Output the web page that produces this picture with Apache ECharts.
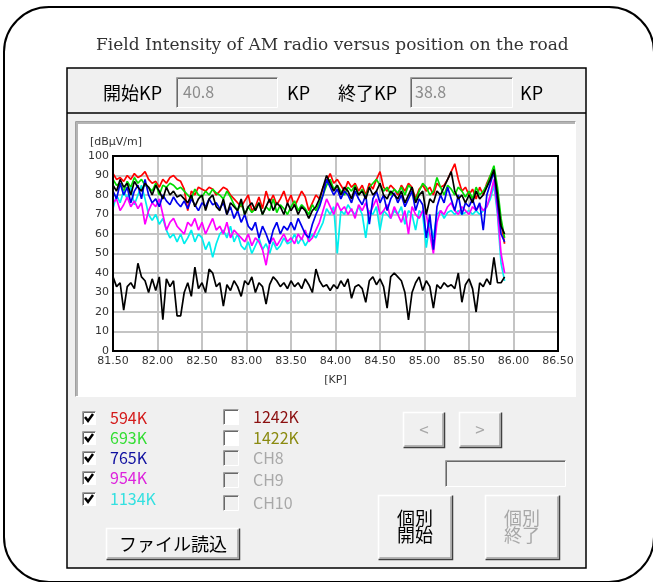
<!DOCTYPE html>
<html><head><meta charset="utf-8">
<script src="https://cdn.jsdelivr.net/npm/echarts@6/dist/echarts.min.js"></script>
<style>html,body{margin:0;padding:0;background:#fff}#c{width:653px;height:582px}</style>
</head><body><div id="c"></div>
<script>
// ---- data ----
const kp = [81.50,81.54,81.58,81.62,81.66,81.70,81.74,81.78,81.82,81.86,
81.90,81.94,81.98,82.02,82.06,82.10,82.14,82.18,82.22,82.26,
82.30,82.34,82.38,82.42,82.46,82.50,82.54,82.58,82.62,82.66,
82.70,82.74,82.78,82.82,82.86,82.90,82.94,82.98,83.02,83.06,
83.10,83.14,83.18,83.22,83.26,83.30,83.34,83.38,83.42,83.46,
83.50,83.54,83.58,83.62,83.66,83.70,83.74,83.78,83.82,83.86,
83.90,83.94,83.98,84.02,84.06,84.10,84.14,84.18,84.22,84.26,
84.30,84.34,84.38,84.42,84.46,84.50,84.54,84.58,84.62,84.66,
84.70,84.74,84.78,84.82,84.86,84.90,84.94,84.98,85.02,85.06,
85.10,85.14,85.18,85.22,85.26,85.30,85.34,85.38,85.42,85.46,
85.50,85.54,85.58,85.62,85.66,85.70,85.74,85.78,85.82,85.86,85.90];

const ch594 = [91,88,89,87,90,88,91,89,90,92, 88,86,87,84,88,86,89,90,88,87,
83,72,82,80,84,83,82,84,83,80, 82,84,83,80,78,76,74,77,80,72,
74,79,73,82,76,80,75,78,82,76, 80,74,78,82,79,72,76,80,78,84,
87,91,86,88,85,82,87,84,86,82, 85,80,86,83,88,92,84,82,85,83,
80,85,82,86,84,78,83,85,82,84, 80,86,84,85,88,92,96,88,82,84,
80,83,78,84,80,86,90,92,80,66,55];

const ch693 = [88,85,86,82,87,84,89,86,88,85, 84,82,86,80,85,84,86,85,83,84,
82,80,78,83,80,79,82,80,83,81, 80,78,82,79,75,72,76,70,74,71,
73,76,70,74,72,78,71,75,73,70, 74,77,72,75,73,70,75,72,76,80,
85,88,83,85,82,80,84,82,85,80, 83,79,84,86,88,85,82,84,80,83,
81,84,80,85,83,77,82,86,84,80, 82,89,84,80,85,83,80,84,82,79,
82,78,84,80,82,85,90,95,84,68,58];

const ch765 = [82,78,86,80,84,76,82,85,78,88, 80,76,78,74,80,77,75,79,76,74,
77,73,78,75,72,76,74,78,75,76, 73,76,70,74,68,72,66,70,64,62,
66,58,64,60,55,62,66,60,64,62, 66,62,68,64,60,58,65,70,74,80,
88,84,80,83,78,82,80,76,82,78, 75,80,65,78,82,76,80,72,78,81,
76,80,74,78,82,72,78,75,58,70, 52,74,80,76,84,78,72,80,70,76,
74,78,72,76,62,80,86,92,76,60,56];

const ch954 = [76,78,72,75,79,74,77,73,76,65, 72,76,74,78,70,62,66,68,64,62,
60,66,64,68,62,66,60,64,68,62, 64,60,66,58,62,60,58,56,60,54,
58,56,52,44,55,58,54,57,60,56, 58,55,60,57,62,56,58,62,66,72,
78,74,70,76,72,74,70,73,68,75, 72,76,70,74,78,70,72,75,68,74,
70,66,72,60,74,70,68,72,70,60, 50,66,72,70,74,76,72,70,74,72,
70,74,72,75,72,74,80,88,72,50,40];

const ch1134 = [73,80,76,82,78,84,75,80,85,78, 70,67,70,65,68,62,58,60,56,60,
55,58,62,56,60,58,52,56,48,55, 60,62,58,64,56,60,54,52,56,50,
54,58,52,55,50,56,52,54,58,55, 56,60,55,58,54,57,60,58,62,66,
73,70,74,50,72,70,75,72,70,74, 70,58,72,70,74,62,72,70,68,72,
70,74,65,72,70,62,72,70,53,66, 58,70,72,68,71,72,70,72,70,71,
72,70,72,70,72,74,78,85,70,45,36];

const blackHigh = [85,82,88,84,86,80,87,84,82,86, 84,80,85,82,78,84,80,82,79,80,
78,76,80,74,78,80,72,78,80,74, 72,78,70,76,74,72,78,70,74,76,
72,76,70,74,78,72,76,74,70,76, 72,75,70,74,72,68,72,74,78,84,
90,86,82,85,80,84,82,78,84,80, 82,78,84,80,82,86,80,78,82,80,
78,82,76,80,84,76,80,82,70,78, 76,82,80,84,88,92,82,78,80,76,
80,76,82,78,80,84,88,93,80,64,60];

const blackLow = [38,33,35,21,33,35,32,45,38,36, 30,37,31,38,16,37,33,36,18,18,
30,35,28,43,32,35,30,42,40,33, 35,23,34,31,36,33,28,36,34,38,
30,35,33,24,34,38,36,33,35,32, 36,33,35,32,37,34,30,42,36,33,
34,31,34,32,36,33,37,27,33,34, 32,25,36,38,34,37,33,22,38,40,
38,36,30,16,30,35,38,31,36,33, 22,34,32,35,33,34,32,40,25,34,
37,32,20,35,33,37,34,48,35,35,38];

const yTicks = [0,10,20,30,40,50,60,70,80,90,100];
const checkedNames = ['594K','693K','765K','954K','1134K'];
const checkedColors = ['#d41a1a','#33dd33','#1010a0','#dd22dd','#33e0e0'];
const otherNames = ['1242K','1422K','CH8','CH9','CH10'];
const otherColors = ['#8b1010','#8a8a10','#a8a8a8','#a8a8a8','#a8a8a8'];
const traceColors = {ch594:'#ff0000', ch693:'#00dd00', ch765:'#0000ee', ch954:'#ff00ff', ch1134:'#00eeee', black:'#000000'};

// ---- helpers for dialog chrome ----
const JP = '"Noto Sans CJK JP", sans-serif';
const els = [];
function rect(x,y,w,h,fill,stroke,lw,z,r){els.push({type:'rect',z:z||-5,shape:{x,y,width:w,height:h,r:r||0},style:{fill:fill||'none',stroke:stroke||'none',lineWidth:lw||1}});}
function pl(pts,color,lw,z){els.push({type:'polyline',z:z||-4,shape:{points:pts},style:{stroke:color,lineWidth:lw||1,fill:'none'}});}
function sunken(x,y,w,h,fill){
  rect(x,y,w,h,fill);
  pl([[x+0.5,y+h],[x+0.5,y+0.5],[x+w,y+0.5]],'#a0a0a0',1);
  pl([[x+1.5,y+h-1],[x+1.5,y+1.5],[x+w-1,y+1.5]],'#696969',1);
  pl([[x+0.5,y+h-0.5],[x+w-0.5,y+h-0.5],[x+w-0.5,y+0.5]],'#ffffff',1);
}
function raised(x,y,w,h){
  rect(x,y,w,h,'#f0f0f0');
  pl([[x+0.5,y+h],[x+0.5,y+0.5],[x+w,y+0.5]],'#ffffff',1.5);
  pl([[x+0.5,y+h-0.5],[x+w-0.5,y+h-0.5],[x+w-0.5,y+0.5]],'#404040',1.5);
  pl([[x+1.5,y+h-2],[x+w-2,y+h-2],[x+w-2,y+1.5]],'#a0a0a0',1.5);
}
function text(x,y,str,size,color,align,font,lh){
  els.push({type:'text',z:5,x,y,style:{text:str,fontSize:size,lineHeight:lh||undefined,fill:color||'#000',textAlign:align||'left',textVerticalAlign:'middle',fontFamily:font||JP}});
}

// outer rounded frame
rect(4,7,650,575,'#ffffff','#000',2,-10,45);
// dialog
rect(67,68,519,500,'#f0f0f0','#000',1.5,-9);
pl([[67,113],[586,113]],'#000',1.5,-8);
// top bar
text(103,93,'開始KP',18,'#000');
sunken(176,77,102,31,'#f0f0f0');
text(183,92,'40.8',16,'#8c8c8c');
text(287,93,'KP',18,'#000');
text(338,93,'終了KP',18,'#000');
sunken(410,77,103,31,'#f0f0f0');
text(415,92,'38.8',16,'#8c8c8c');
text(520,93,'KP',18,'#000');
// chart box
sunken(75,121,501,276,'#ffffff');
pl([[77,396],[77,123],[575,123]],'#b4b4b4',2,-4);
text(90,142,'[dBμV/m]',11,'#333','left','DejaVu Sans');
// checkboxes
const c1y=[418,438,458,478,499], c2y=[417,438,458,480,503];
checkedNames.forEach((n,i)=>{
  const y=c1y[i]; sunken(82,y-7,14,14,'#ffffff');
  pl([[85,y-1],[88,y+3],[93,y-4]],'#000',2.5,-3);
  text(110,y,n,16,checkedColors[i]);
});
otherNames.forEach((n,i)=>{
  const y=c2y[i]; sunken(223,y-8,16,16,i<2?'#ffffff':'#f0f0f0');
  text(253,y,n,16,otherColors[i]);
});
// buttons
raised(106,528,134,32); text(173,544,'ファイル読込',18,'#000','center');
raised(403,412,42,36); text(424,430,'<',17,'#a8a8a8','center');
raised(459,412,43,36); text(480,430,'>',17,'#a8a8a8','center');
sunken(445,460,121,27,'#f0f0f0');
raised(378,495,75,65); text(415,527,'個別\n開始',18,'#000','center',JP,17);
raised(485,495,75,65); text(522,527,'個別\n終了',18,'#a8a8a8','center',JP,17);

function mk(name,vals,color){
  return {name,type:'line',data:kp.map((x,i)=>[x,vals[i]]),showSymbol:false,symbol:'none',
    lineStyle:{width:1.7,color},itemStyle:{color},animation:false,z:3};
}

const chart = echarts.init(document.getElementById('c'),null,{renderer:'canvas'});
chart.setOption({
  animation:false,
  backgroundColor:'transparent',
  title:{text:'Field Intensity of AM radio versus position on the road',left:91,top:32,
    textStyle:{fontFamily:'DejaVu Serif',fontSize:17,fontWeight:'normal',color:'#333'}},
  graphic:{elements:els},
  grid:{left:113,top:156,width:445,height:195,show:true,backgroundColor:'transparent',borderColor:'#000',borderWidth:2,z:4},
  xAxis:{type:'value',min:81.5,max:86.5,interval:0.5,
    name:'[KP]',nameLocation:'middle',nameGap:24,nameTextStyle:{fontSize:11,color:'#333',fontFamily:'DejaVu Sans'},
    axisLine:{show:false},axisTick:{show:false},
    axisLabel:{fontSize:11,color:'#333',margin:5,fontFamily:'DejaVu Sans',formatter:v=>v.toFixed(2)},
    splitLine:{show:true,lineStyle:{color:'#c4c4c4',width:2}}},
  yAxis:{type:'value',min:yTicks[0],max:yTicks[yTicks.length-1],interval:10,
    axisLine:{show:false},axisTick:{show:false},
    axisLabel:{fontSize:11,color:'#333',margin:4,fontFamily:'DejaVu Sans'},
    splitLine:{show:true,lineStyle:{color:'#c4c4c4',width:2}}},
  series:[
    mk('594K',ch594,traceColors.ch594),
    mk('693K',ch693,traceColors.ch693),
    mk('1134K',ch1134,traceColors.ch1134),
    mk('954K',ch954,traceColors.ch954),
    mk('765K',ch765,traceColors.ch765),
    mk('black-high',blackHigh,traceColors.black),
    mk('black-low',blackLow,traceColors.black)
  ]
});
</script></body></html>
